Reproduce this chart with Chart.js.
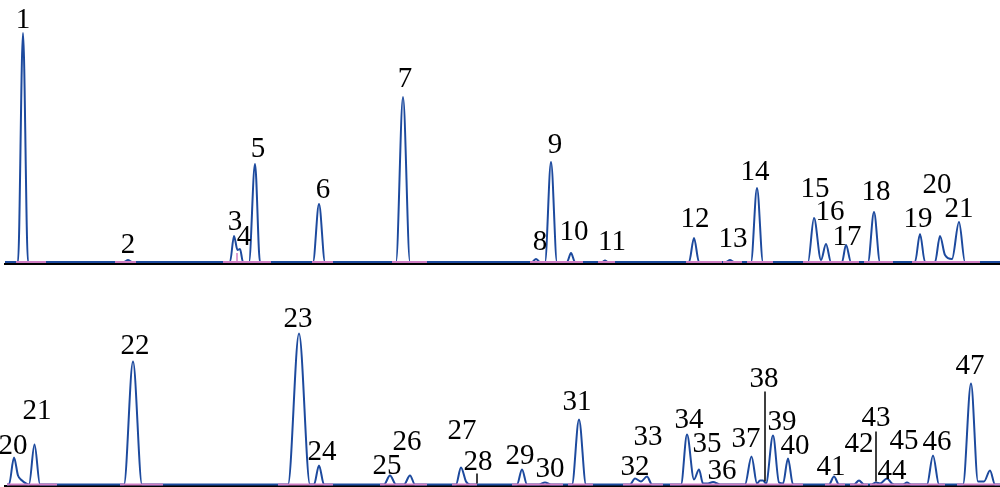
<!DOCTYPE html>
<html>
<head>
<meta charset="utf-8">
<script src="https://cdn.jsdelivr.net/npm/chart.js@4.4.1/dist/chart.umd.min.js"></script>
<style>
  html, body { margin: 0; padding: 0; background: #fff; }
  #wrap { position: relative; width: 1000px; height: 487px; overflow: hidden; }
  canvas { position: absolute; left: 0; }
  #top { top: 0; }
  #bottom { top: 280px; }
</style>
</head>
<body>
<div id="wrap">
  <canvas id="top" width="1000" height="266"></canvas>
  <canvas id="bottom" width="1000" height="207"></canvas>
</div>
<script>
// x = retention position, y = detector signal (arbitrary units)
const topTrace = [
  [5,0],[18,0],[23,229],[28,0],
  [124,0],[128,2],[132,0],
  [230,0],[234,26],[237.5,12],[240,13],[243,0],
  [249,0],[255,98],[260,0],
  [313,0],[319,58],[325,0],
  [396,0],[403,165],[410,0],
  [532,0],[536,3],[540,0],
  [545,0],[551,100],[557,0],
  [567,0],[571,9],[575,0],
  [602,0],[605,1.5],[608,0],
  [689,0],[694,24],[699,0],
  [726,0],[730,2],[734,0],
  [751,0],[757,74],[763,0],
  [808,0],[814,44],[821,2],[826,18],[831,0],
  [842,0],[846,17],[851,0],
  [868,0],[874,50],[880,0],
  [915,0],[920,28],[925,0],
  [935,0],[940,26],[945,7],[952,3],[959,40],[965,0],
  [1000,0]
];
const bottomTrace = [
  [7,0],[9,0],[14,27],[18,9],[22,4],[26,1],[29,0],[34.5,40],[40,0],
  [124,0],[133,123],[142,0],
  [288,0],[299,151],[310,0],
  [314,0],[319,19],[324,0],
  [384,0],[390,9],[396,0],
  [404,0],[410,9],[415,0],
  [456,0],[461,17],[466,3],[470,0],
  [517,0],[522,15],[527,0],
  [539,0],[545,2],[551,0],
  [572,0],[579,65],[586,0],
  [630,0],[635,6],[641,3],[647,8],[652,0],
  [681,0],[687,50],[694,5],[699,15],[703,1],[708,1],[713,2.5],[720,0],
  [745,0],[751.5,28],[757,1],[760,4],[763,4],[766,1],[773,49],[779,2],[783,1],[788,26],[793,0],
  [829,0],[834,8],[839,0],
  [854,0],[859,4],[864,0],
  [871,0],[876,2],[880,1],[887,6],[892,1],[896,0],
  [903,0],[907,2],[911,0],
  [927,0],[933,29],[939,0],
  [963,0],[971,101],[978,3],[984,3],[990,14],[995,0],[1000,0]
];

// integration baselines (start, end)
const topBaselines = [[16,46],[115,136],[223,271],[312,333],[392,427],[530,583],[598,615],
  [686,722],[723,742],[747,773],[803,859],[864,893],[912,980]];
const bottomBaselines = [[7,57],[120,163],[278,333],[380,427],[452,477],[512,563],[568,593],
  [623,663],[670,803],[825,845],[850,868],[870,945],[957,1000]];

// vertical markers (x, from, to)
const topPinkTicks = [[237,1,9]];
const bottomBlackTicks = [[477,1,11],[765,3,93],[876,3,53]];

const topLabelNames = ['1','2','3','4','5','6','7','8','9','10','11','12','13','14','15','16','17','18','19','20','21'];
const topLabelX = [23,128,235,244,258,323,405,540,555,574,612,695,733,755,815,830,847,876,918,937,959];
const topLabelY = [234,9,32,17,105,64,175,12,109,22,12,35,15,82,65,42,17,62,35,69,45];

const bottomLabelNames = ['20','21','22','23','24','25','26','27','28','29','30','31','32','33',
  '34','35','36','37','38','39','40','41','42','43','44','45','46','47'];
const bottomLabelX = [13,37,135,298,322,387,407,462,478,520,550,577,635,648,
  689,707,722,746,764,782,795,831,859,876,892,904,937,970];
const bottomLabelY = [31,66,131,158,25,11,35,46,15,21,8,75,10,40,
  57,33,6,38,98,55,31,10,33,59,6,36,35,111];

const BLUE = '#1d4a9e';
const PINK = '#d07ec4';

function toPoints(pairs) {
  return pairs.map(p => ({ x: p[0], y: p[1] }));
}

function segmentPoints(segs) {
  const pts = [];
  segs.forEach(s => {
    pts.push({ x: s[0], y: 0 }, { x: s[1], y: 0 }, { x: s[1], y: null });
  });
  return pts;
}

function tickPoints(ticks) {
  const pts = [];
  ticks.forEach(t => {
    pts.push({ x: t[0], y: t[1] }, { x: t[0], y: t[2] }, { x: t[0], y: null });
  });
  return pts;
}

function labelPlugin(names, xs, ys) {
  return {
    id: 'peakLabels',
    afterDatasetsDraw(chart) {
      const { ctx, scales } = chart;
      ctx.save();
      ctx.font = '29px "Liberation Serif", "Times New Roman", serif';
      ctx.fillStyle = '#000';
      ctx.textAlign = 'center';
      ctx.textBaseline = 'alphabetic';
      names.forEach((n, i) => {
        ctx.fillText(n, scales.x.getPixelForValue(xs[i]), scales.y.getPixelForValue(ys[i]));
      });
      ctx.restore();
    }
  };
}

function drawPanel(id, trace, baselines, pinkTicks, blackTicks, names, xs, ys, yMin, yMax, padBottom) {
  return new Chart(document.getElementById(id), {
    type: 'line',
    data: {
      datasets: [
        { data: tickPoints(blackTicks), borderColor: '#000', borderWidth: 1.5, pointRadius: 0 },
        { data: tickPoints(pinkTicks), borderColor: PINK, borderWidth: 1.5, pointRadius: 0 },
        { data: segmentPoints(baselines), borderColor: PINK, borderWidth: 2, pointRadius: 0 },
        { data: toPoints(trace), borderColor: BLUE, borderWidth: 2, pointRadius: 0,
          cubicInterpolationMode: 'monotone' }
      ]
    },
    options: {
      responsive: false,
      animation: false,
      events: [],
      layout: { padding: { left: 5, right: 0, top: 0, bottom: padBottom } },
      plugins: { legend: { display: false }, tooltip: { enabled: false } },
      scales: {
        x: {
          type: 'linear', min: 5, max: 1000,
          grid: { display: false, drawTicks: false },
          ticks: { display: false },
          border: { display: true, color: '#000', width: 2 }
        },
        y: { display: false, min: yMin, max: yMax }
      }
    },
    plugins: [labelPlugin(names, xs, ys)]
  });
}

drawPanel('top', topTrace, topBaselines, topPinkTicks, [], topLabelNames, topLabelX, topLabelY, -2, 262, 2);
drawPanel('bottom', bottomTrace, bottomBaselines, [], bottomBlackTicks, bottomLabelNames, bottomLabelX, bottomLabelY, -1.5, 204.5, 1);
</script>
</body>
</html>
